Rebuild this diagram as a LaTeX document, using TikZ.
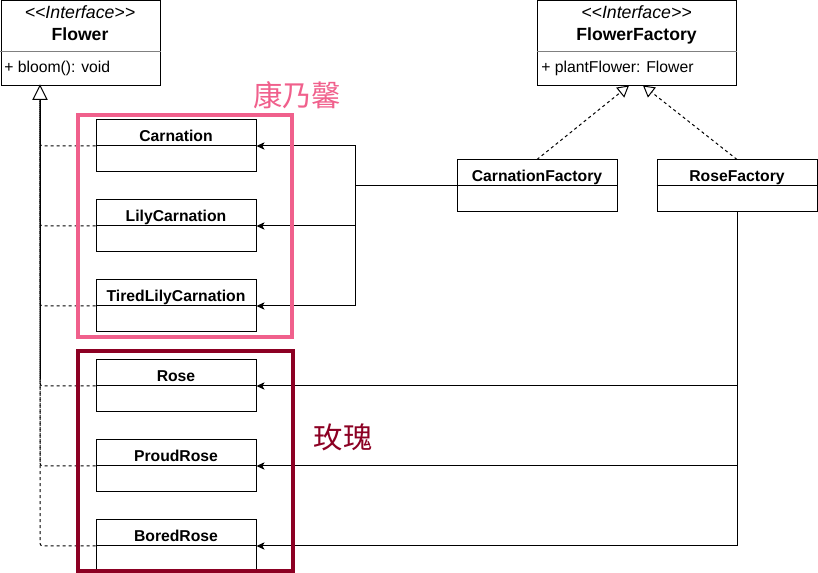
\documentclass[tikz,border=0pt]{standalone}
\usepackage{fontspec}
\setmainfont{Liberation Sans}
\newfontfamily\cjk{Noto Sans CJK SC}
\usetikzlibrary{arrows.meta,calc}
\definecolor{grppink}{RGB}{240,96,140}
\definecolor{grpred}{RGB}{140,0,35}
\tikzset{
  cls/.style={draw, line width=0.75pt, fill=white, rectangle, inner sep=0pt,
    minimum width=120pt, minimum height=39pt},
  ctitle/.style={anchor=base, inner sep=0pt, font=\fontsize{11.8pt}{14pt}\selectfont\bfseries},
  ititle/.style={anchor=base, inner sep=0pt, font=\fontsize{13.2pt}{15pt}\selectfont\bfseries},
  stereo/.style={anchor=base, inner sep=0pt, font=\fontsize{13.3pt}{15pt}\selectfont\itshape},
  attr/.style={anchor=base west, inner sep=0pt, font=\fontsize{11.8pt}{14pt}\selectfont},
  real/.style={draw, line width=0.75pt, dash pattern=on 2.25pt off 2.25pt, rounded corners=2pt},
  tri/.style={draw, line width=0.75pt, solid, fill=white},
  realf/.style={draw, line width=0.75pt, dash pattern=on 2.25pt off 2.25pt,
    -{Triangle[open,length=8.5pt,width=9.5pt]}},
  dep/.style={draw, line width=0.75pt, -{Stealth[length=6pt,width=5.5pt,inset=1.5pt]}},
  grp/.style={draw, line width=3pt},
  grptext/.style={inner sep=0pt, font=\cjk\fontsize{22pt}{26pt}\selectfont}
}
\newcommand\mkclass[4]{%
  \node[cls] (#1) at (#2,#3) {};
  \draw[line width=0.75pt] (#1.west) -- (#1.east);
  \node[ctitle] (#1t) at ([yshift=-16.5pt]#1.north) {#4};
}
\newcommand\stereotxt{\mbox{<}\mbox{<}Interface\mbox{>}\mbox{>}}
\begin{document}
\begin{tikzpicture}[x=0.75pt,y=-0.75pt]
\useasboundingbox (0,0) rectangle (818,573);
% interfaces
\node[cls, minimum width=119.25pt, minimum height=63.4pt] (flower) at (80.5,42.75) {};
\draw[line width=0.75pt, gray] ([yshift=-39pt]flower.north west) -- ([yshift=-39pt]flower.north east);
\node[stereo] (flowers) at (80,19) {\stereotxt};
\node[ititle] (flowert) at (80,41) {Flower};
\node[attr] (flowera) at (4,73) {+ bloom(): void};

\node[cls, minimum width=149.25pt, minimum height=63.4pt] (ff) at (636.5,42.75) {};
\draw[line width=0.75pt, gray] ([yshift=-39pt]ff.north west) -- ([yshift=-39pt]ff.north east);
\node[stereo] (ffs) at (636.5,19) {\stereotxt};
\node[ititle] (fft) at (636.5,41) {FlowerFactory};
\node[attr] (ffa) at (541,73) {+ plantFlower: Flower};

% factories
\mkclass{cf}{537}{186}{CarnationFactory}
\mkclass{rf}{737}{186}{RoseFactory}

% products
\mkclass{carn}{176}{146}{Carnation}
\mkclass{lily}{176}{226}{LilyCarnation}
\mkclass{tired}{176}{306}{TiredLilyCarnation}
\mkclass{rose}{176}{386}{Rose}
\mkclass{proud}{176}{466}{ProudRose}
\mkclass{bored}{176}{546}{BoredRose}

% realizations to Flower
\coordinate (flin) at (40,85.5);
\coordinate (flbase) at (40,99.5);
\foreach \n in {carn,lily,tired,rose,proud,bored}{
  \draw[real] (\n.west) -| (flbase);
}
\draw[line width=0.75pt] (flbase) -- ++(0,280);
\draw[tri] (flin) -- ++(-7,14) -- ++(14,0) -- cycle;
\coordinate (ffin1) at (629,85.5);
\coordinate (ffin2) at (643,85.5);
\draw[realf] (cf.north) -- (ffin1);
\draw[realf] (rf.north) -- (ffin2);

% dependencies
\foreach \n in {carn,lily,tired}{
  \draw[dep] (cf.west) -- ++(-101,0) |- (\n.east);
}
\foreach \n in {rose,proud,bored}{
  \draw[dep] (rf.south) |- (\n.east);
}

% groups
\draw[grp, grppink] (78,115) rectangle (292,337);
\draw[grp, grpred] (78,351) rectangle (293,570.5);
\node[grptext, text=grppink] (kang) at (297,95) {康乃馨};
\node[grptext, text=grpred] (mei) at (343,437) {玫瑰};
\end{tikzpicture}
\end{document}
